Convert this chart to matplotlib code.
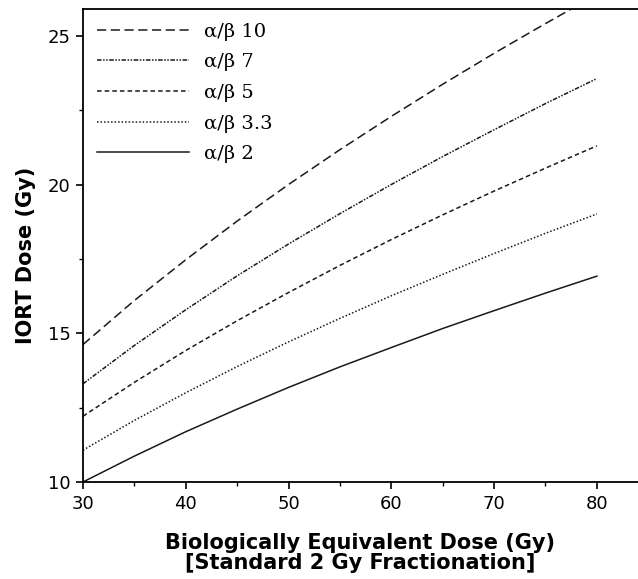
import matplotlib.pyplot as plt
from matplotlib.ticker import MultipleLocator

# Biologically equivalent dose (x) and IORT dose
ebrt_dose = [30, 35, 40, 45, 50, 55, 60, 65, 70, 75, 80]
iort_ab10 = [14.62, 16.10, 17.47, 18.77, 20.00, 21.17, 22.29, 23.37, 24.41, 25.41, 26.38]
iort_ab7 = [13.30, 14.59, 15.79, 16.93, 18.00, 19.02, 20.00, 20.94, 21.84, 22.72, 23.56]
iort_ab5 = [12.21, 13.35, 14.42, 15.42, 16.37, 17.28, 18.15, 18.98, 19.78, 20.55, 21.30]
iort_ab33 = [11.07, 12.07, 13.00, 13.88, 14.71, 15.50, 16.26, 16.98, 17.68, 18.36, 19.01]
iort_ab2 = [10.00, 10.87, 11.69, 12.45, 13.18, 13.87, 14.52, 15.16, 15.76, 16.35, 16.92]

labels = ['α/β 10', 'α/β 7', 'α/β 5', 'α/β 3.3', 'α/β 2']
styles = [(0, (6, 3)), (0, (3, 1, 1, 1, 1, 1)), (0, (3, 2)), (0, (1, 1.3)), '-']

fig = plt.figure(figsize=(6.38, 5.79), dpi=100)
ax = fig.add_axes([0.130, 0.1675, 0.870, 0.817])

series = [iort_ab10, iort_ab7, iort_ab5, iort_ab33, iort_ab2]
for ys, lab, ls in zip(series, labels, styles):
    ax.plot(ebrt_dose, ys, color='#1a1a1a', lw=1.1, linestyle=ls, label=lab)

ax.set_xlim(30, 84)
ax.set_ylim(10, 25.9)
ax.xaxis.set_major_locator(MultipleLocator(10))
ax.xaxis.set_minor_locator(MultipleLocator(5))
ax.yaxis.set_major_locator(MultipleLocator(5))
ax.yaxis.set_minor_locator(MultipleLocator(2.5))
ax.tick_params(which='major', direction='out', length=5, width=1.2,
               labelsize=13, pad=4)
ax.tick_params(which='minor', direction='out', length=3, width=1)

ax.spines['right'].set_visible(False)
for s in ['left', 'bottom', 'top']:
    ax.spines[s].set_linewidth(1.3)

ax.set_xlabel('Biologically Equivalent Dose (Gy)\n[Standard 2 Gy Fractionation]',
              fontweight='bold', fontsize=15, labelpad=15, linespacing=0.95)
ax.set_ylabel('IORT Dose (Gy)', fontweight='bold', fontsize=15)
ax.yaxis.set_label_coords(-0.085, 0.48)

leg = ax.legend(loc='upper left', frameon=False, handlelength=4.75,
                handletextpad=0.8, labelspacing=0.65, borderaxespad=0.3,
                prop={'family': 'DejaVu Serif', 'size': 14})

fig.savefig('out.png', dpi=100)
